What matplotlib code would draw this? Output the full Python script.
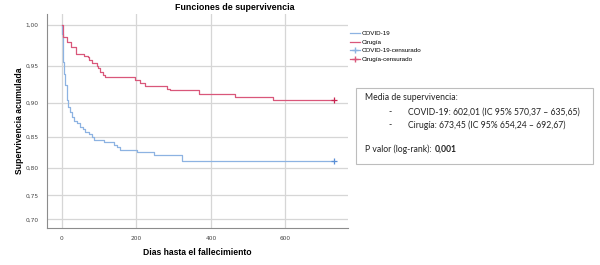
import numpy as np
import matplotlib
matplotlib.use('Agg')
from matplotlib import pyplot as plt
from matplotlib.lines import Line2D
from matplotlib.patches import Rectangle
from matplotlib.ticker import FuncFormatter

# Kaplan-Meier steps (days, cumulative survival)
covid_t = [0, 1, 2, 4, 6, 9, 13, 17, 22, 28, 33, 40, 49, 57, 63, 72, 81, 85,
           112, 139, 148, 157, 201, 246, 322, 730]
covid_s = [1.000, 0.990, 0.975, 0.955, 0.940, 0.925, 0.905, 0.895, 0.888, 0.880,
           0.875, 0.872, 0.866, 0.862, 0.858, 0.855, 0.850, 0.846, 0.843, 0.838,
           0.834, 0.830, 0.826, 0.822, 0.812, 0.812]
cirugia_t = [0, 3, 13, 25, 38, 58, 69, 74, 81, 94, 98, 103, 109, 116, 197, 210,
             224, 282, 291, 367, 465, 568, 730]
cirugia_s = [1.000, 0.986, 0.980, 0.974, 0.965, 0.963, 0.961, 0.958, 0.953, 0.950,
             0.947, 0.942, 0.938, 0.935, 0.931, 0.927, 0.923, 0.920, 0.918, 0.913,
             0.909, 0.905, 0.905]
yticks = [0.70, 0.75, 0.80, 0.85, 0.90, 0.95, 1.00]
xticks = [0, 200, 400, 600]

c_blue = '#8db3e2'
c_red = '#d9577a'

# the source image is squeezed towards the bottom, mimic with a quadratic scale
A, B = 22.33, 1.667


def fwd(v):
    k = (np.asarray(v) - 0.7) / 0.05
    return A * k + B * k ** 2


def inv(p):
    p = np.asarray(p)
    k = (-A + np.sqrt(np.maximum(A * A + 4 * B * p, 0))) / (2 * B)
    return 0.7 + 0.05 * k


fig = plt.figure(figsize=(6, 2.65), dpi=100)
ax = fig.add_axes([47 / 600, 1 - 228 / 265, 301 / 600, 214 / 265])
ax.set_yscale('function', functions=(fwd, inv))

ax.step(covid_t, covid_s, where='post', color=c_blue, lw=0.9)
ax.step(cirugia_t, cirugia_s, where='post', color=c_red, lw=0.9)
ax.plot(covid_t[-1], covid_s[-1], '+', color='#5a8fd6', ms=4, mew=0.9)
ax.plot(cirugia_t[-1], cirugia_s[-1], '+', color='#c8234f', ms=4, mew=0.9)

ax.set_xlim(-40, 768)
ax.set_ylim(0.68, 1.013)
ax.set_xticks(xticks)
ax.set_yticks(yticks)
ax.yaxis.set_major_formatter(FuncFormatter(lambda v, _: f"{v:.2f}".replace('.', ',')))
ax.tick_params(length=0, labelsize=4.2, labelcolor='#444444', pad=6)
ax.grid(True, color='#d6d6d6', lw=0.9)
ax.set_axisbelow(True)
for s in ['top', 'right']:
    ax.spines[s].set_visible(False)
for s in ['left', 'bottom']:
    ax.spines[s].set_color('#8c8c8c')
    ax.spines[s].set_linewidth(0.8)

ax.set_xlabel('Dias hasta el fallecimiento', fontsize=6.2, fontweight='bold',
              family='Liberation Sans', labelpad=5)
ax.set_ylabel('Supervivencia acumulada', fontsize=6.2, fontweight='bold',
              family='Liberation Sans', labelpad=1)
fig.text(235 / 600, 1 - 7 / 265, 'Funciones de supervivencia', ha='center', va='center',
         fontsize=6.4, fontweight='bold', family='Liberation Sans')

handles = [Line2D([], [], color=c_blue, lw=0.9),
           Line2D([], [], color=c_red, lw=0.9),
           Line2D([], [], color=c_blue, lw=0.9, marker='+', ms=5),
           Line2D([], [], color=c_red, lw=0.9, marker='+', ms=5)]
labels = ['COVID-19', 'Cirugía', 'COVID-19-censurado', 'Cirugía-censurado']
fig.legend(handles, labels, loc='upper left', bbox_to_anchor=(350 / 600, 1 - 31 / 265),
           frameon=False, handlelength=1.6, handletextpad=0.3,
           labelspacing=0.5, borderaxespad=0, borderpad=0,
           prop={'family': 'Liberation Sans', 'size': 4.5})

# summary box
fig.add_artist(Rectangle((356 / 600, 1 - 164 / 265), 237 / 600, 76 / 265,
                         transform=fig.transFigure, facecolor='white',
                         edgecolor='#bdbdbd', lw=0.8))
tk = dict(fontsize=6.2, family='Lato', va='center', color='#222222')
fig.text(365 / 600, 1 - 98 / 265, 'Media de supervivencia:', **tk)
fig.text(388 / 600, 1 - 112 / 265, '-', **tk)
fig.text(408 / 600, 1 - 112 / 265, 'COVID-19: 602,01 (IC 95% 570,37 – 635,65)', **tk)
fig.text(388 / 600, 1 - 125 / 265, '-', **tk)
fig.text(408 / 600, 1 - 125 / 265, 'Cirugía: 673,45 (IC 95% 654,24 – 692,67)', **tk)
t1 = fig.text(365 / 600, 1 - 149 / 265, 'P valor (log-rank):', **tk)
fig.canvas.draw()
bb = t1.get_window_extent().transformed(fig.transFigure.inverted())
fig.text(bb.x1 + 3 / 600, 1 - 149 / 265, '0,001', fontsize=6.2, family='Lato',
         fontweight='bold', va='center', color='#222222')

fig.savefig('out.png', dpi=100)
